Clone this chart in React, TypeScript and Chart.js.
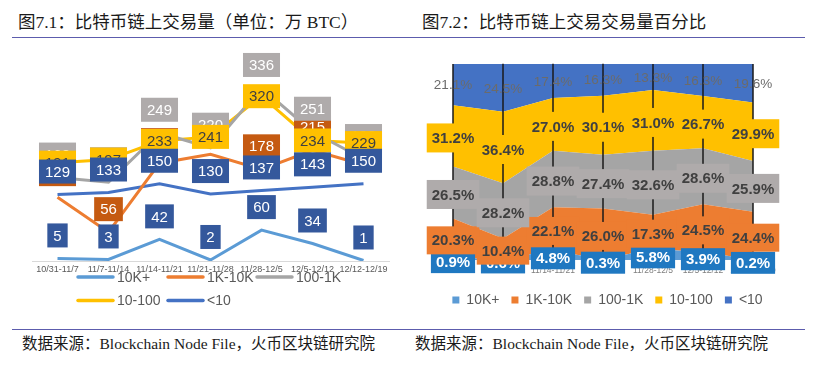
import React, { useEffect, useRef } from 'react';
import { Chart, registerables } from 'chart.js';

Chart.register(...registerables);

// ---------- data ----------
const categories = [
  '10/31-11/7',
  '11/7-11/14',
  '11/14-11/21',
  '11/21-11/28',
  '11/28-12/5',
  '12/5-12/12',
  '12/12-12/19',
];
const seriesNames = ['10K+', '1K-10K', '100-1K', '10-100', '<10'];
const seriesColors = ['#5B9BD5', '#ED7D31', '#A5A5A5', '#FFC000', '#4472C4'];

// Fig 7.1 : on-chain volume (万 BTC)
const vol10KPlus = [5, 3, 42, 2, 60, 34, 1];
const vol1Kto10K = [124, 56, 190, 207, 178, 215, 187];
const vol100to1K = [162, 153, 249, 220, 336, 251, 198];
const vol10to100 = [191, 197, 233, 241, 320, 234, 229];
const volUnder10 = [129, 133, 150, 130, 137, 143, 150];

// Fig 7.2 : share of volume (%)
const pct10KPlus = [0.9, 0.6, 4.8, 0.3, 5.8, 3.9, 0.2];
const pct1Kto10K = [20.3, 10.4, 22.1, 26.0, 17.3, 24.5, 24.4];
const pct100to1K = [26.5, 28.2, 28.8, 27.4, 32.6, 28.6, 25.9];
const pct10to100 = [31.2, 36.4, 27.0, 30.1, 31.0, 26.7, 29.9];
const pctUnder10 = [21.1, 24.5, 17.4, 16.3, 13.3, 16.3, 19.6];

const volSeries = [vol10KPlus, vol1Kto10K, vol100to1K, vol10to100, volUnder10];
const pctSeries = [pct10KPlus, pct1Kto10K, pct100to1K, pct10to100, pctUnder10];

// ---------- styles ----------
const SANS = '"Liberation Sans", Arial, sans-serif';
const SERIF = '"Liberation Serif", "Noto Sans CJK SC", serif';

const volLabelStyles = [
  { bg: '#34589C', color: '#FFFFFF', dy: -23 },
  { bg: '#C55A11', color: '#FFFFFF', dy: -23 },
  { bg: '#AFABAB', color: '#FFFFFF', dy: -23 },
  { bg: '#FFC000', color: '#404040', dy: 0 },
  { bg: '#34589C', color: '#FFFFFF', dy: -23 },
];

const pctLabelStyles = [
  { bg: '#1F78C1', color: '#FFFFFF', font: 'bold 15px ' + SANS, h: 22, dy: 3 },
  { bg: '#ED7D31', color: '#404040', font: 'bold 15px ' + SANS, h: 28, dy: 2 },
  { bg: '#AFABAB', color: '#404040', font: 'bold 15px ' + SANS, h: 29, dy: 2 },
  { bg: '#FFC000', color: '#404040', font: 'bold 15px ' + SANS, h: 29, dy: 2 },
  { bg: null, color: '#6B6B6B', font: '13.5px ' + SANS, h: 0, dy: 0 },
];

// ---------- plugins ----------
const volumeLabelPlugin = {
  id: 'volumeLabels',
  afterDatasetsDraw(chart: any) {
    const ctx = chart.ctx;
    ctx.save();
    ctx.font = '15px ' + SANS;
    ctx.textAlign = 'center';
    ctx.textBaseline = 'middle';
    chart.data.datasets.forEach((ds: any, di: number) => {
      const meta = chart.getDatasetMeta(di);
      const st = volLabelStyles[di];
      meta.data.forEach((pt: any, i: number) => {
        const text = String(ds.data[i]);
        const w = ctx.measureText(text).width + 12;
        const h = 24;
        const cx = pt.x;
        const cy = pt.y + st.dy;
        ctx.fillStyle = st.bg;
        ctx.fillRect(cx - w / 2, cy - h / 2, w, h);
        ctx.fillStyle = st.color;
        ctx.fillText(text, cx, cy + 1);
      });
    });
    ctx.restore();
  },
};

const gridLegendPlugin = {
  id: 'gridLegend',
  afterDraw(chart: any, _args: any, opts: any) {
    const ctx = chart.ctx;
    const { columns, rows, perRow, lineLength, gap } = opts;
    ctx.save();
    ctx.font = '14px ' + SANS;
    ctx.textBaseline = 'middle';
    ctx.textAlign = 'left';
    chart.data.datasets.forEach((ds: any, i: number) => {
      const x = columns[i % perRow];
      const y = rows[Math.floor(i / perRow)];
      ctx.strokeStyle = ds.borderColor;
      ctx.lineWidth = 3.5;
      ctx.lineCap = 'round';
      ctx.beginPath();
      ctx.moveTo(x, y);
      ctx.lineTo(x + lineLength, y);
      ctx.stroke();
      ctx.fillStyle = '#595959';
      ctx.fillText(ds.label, x + lineLength + gap, y + 1);
    });
    ctx.restore();
  },
};

const shareLabelPlugin = {
  id: 'shareLabels',
  afterDatasetsDraw(chart: any) {
    const ctx = chart.ctx;
    const yScale = chart.scales.y;
    const n = chart.data.datasets.length;
    const metas = chart.data.datasets.map((_d: any, i: number) => chart.getDatasetMeta(i));
    ctx.save();
    // drop lines
    ctx.strokeStyle = '#1A1A1A';
    ctx.lineWidth = 1.5;
    metas[0].data.forEach((pt: any, i: number) => {
      const top = metas[n - 1].data[i].y;
      const bottom = yScale.getPixelForValue(0);
      ctx.beginPath();
      ctx.moveTo(pt.x, top);
      ctx.lineTo(pt.x, bottom);
      ctx.stroke();
    });
    // labels
    ctx.textAlign = 'center';
    ctx.textBaseline = 'middle';
    chart.data.datasets.forEach((ds: any, di: number) => {
      const st = pctLabelStyles[di];
      ctx.font = st.font;
      metas[di].data.forEach((pt: any, i: number) => {
        const top = pt.y;
        const bottom = di === 0 ? yScale.getPixelForValue(0) : metas[di - 1].data[i].y;
        const cx = pt.x;
        const cy = (top + bottom) / 2 + st.dy;
        const text = Number(ds.data[i]).toFixed(1) + '%';
        const w = ctx.measureText(text).width + 10;
        if (st.bg) {
          ctx.fillStyle = st.bg;
          ctx.fillRect(cx - w / 2, cy - st.h / 2, w, st.h);
        }
        ctx.fillStyle = st.color;
        ctx.fillText(text, cx, cy + 1);
      });
    });
    ctx.restore();
  },
};

export default function App() {
  const leftRef = useRef<HTMLCanvasElement | null>(null);
  const rightRef = useRef<HTMLCanvasElement | null>(null);

  useEffect(() => {
    Chart.defaults.font.family = SANS;

    const left = new Chart(leftRef.current as HTMLCanvasElement, {
      type: 'line',
      data: {
        labels: categories,
        datasets: seriesNames.map((name, i) => ({
          label: name,
          data: volSeries[i],
          borderColor: seriesColors[i],
          backgroundColor: seriesColors[i],
          borderWidth: 3,
          pointRadius: 0,
          tension: 0,
          fill: false,
        })),
      },
      options: {
        animation: false,
        responsive: false,
        events: [],
        layout: { padding: { left: 32, right: 21, top: 15, bottom: 41 } },
        plugins: {
          legend: { display: false },
          tooltip: { enabled: false },
          gridLegend: { columns: [78, 168, 257], rows: [237, 260.5], perRow: 3, lineLength: 35, gap: 4 },
        } as any,
        scales: {
          x: {
            offset: true,
            grid: { display: false, drawTicks: false },
            border: { display: true, color: '#D9D9D9', width: 1 },
            ticks: {
              autoSkip: false,
              maxRotation: 0,
              minRotation: 0,
              padding: 3.6,
              color: '#595959',
              font: { size: 9, family: SANS },
            },
          },
          y: { display: false, min: 0, max: 400 },
        },
      },
      plugins: [volumeLabelPlugin, gridLegendPlugin],
    } as any);

    const hiddenAxis = (width: number, position: string) => ({
      display: true,
      position,
      min: 0,
      max: 100,
      ticks: { display: false },
      grid: { display: false, drawTicks: false },
      border: { display: false },
      afterFit(scale: any) {
        scale.width = width;
      },
    });

    const right = new Chart(rightRef.current as HTMLCanvasElement, {
      type: 'line',
      data: {
        labels: categories,
        datasets: seriesNames.map((name, i) => ({
          label: name,
          data: pctSeries[i],
          borderColor: seriesColors[i],
          backgroundColor: seriesColors[i],
          borderWidth: 0,
          pointRadius: 0,
          tension: 0,
          fill: i === 0 ? 'origin' : '-1',
        })),
      },
      options: {
        animation: false,
        responsive: false,
        events: [],
        layout: { padding: { left: 0, right: 0, top: 24, bottom: 3 } },
        plugins: {
          legend: {
            position: 'bottom',
            labels: {
              boxWidth: 7,
              boxHeight: 7,
              padding: 12,
              color: '#595959',
              font: { size: 14, family: SANS },
            },
          },
          tooltip: { enabled: false },
        },
        scales: {
          x: {
            offset: false,
            grid: { display: false, drawTicks: false },
            border: { display: false },
            ticks: {
              autoSkip: false,
              maxRotation: 0,
              minRotation: 0,
              padding: 5.4,
              color: '#7F7F7F',
              font: { size: 8.5, family: SANS },
            },
          },
          y: { ...hiddenAxis(43, 'left'), stacked: true },
          yRight: hiddenAxis(52, 'right'),
        },
      },
      plugins: [shareLabelPlugin],
    } as any);

    return () => {
      left.destroy();
      right.destroy();
    };
  }, []);

  const titleStyle: React.CSSProperties = {
    position: 'absolute',
    top: 11,
    fontFamily: SERIF,
    fontSize: 17.5,
    lineHeight: '22px',
    color: '#1A1A1A',
    whiteSpace: 'nowrap',
  };
  const sourceStyle: React.CSSProperties = {
    position: 'absolute',
    top: 334,
    fontFamily: SERIF,
    fontSize: 15.5,
    lineHeight: '20px',
    color: '#1A1A1A',
    whiteSpace: 'nowrap',
  };

  return (
    <div
      style={{
        position: 'fixed',
        left: 0,
        top: 0,
        width: 825,
        height: 369,
        background: '#FFFFFF',
        overflow: 'hidden',
      }}
    >
      <div style={{ ...titleStyle, left: 18 }}>图7.1：比特币链上交易量（单位：万 BTC）</div>
      <div style={{ ...titleStyle, left: 422 }}>图7.2：比特币链上交易交易量百分比</div>
      <div style={{ position: 'absolute', left: 12, top: 36.5, width: 793, height: 1.5, background: '#5C5CAD' }} />
      <canvas
        ref={leftRef}
        width={410}
        height={280}
        style={{ position: 'absolute', left: 0, top: 40, width: 410, height: 280 }}
      />
      <canvas
        ref={rightRef}
        width={395}
        height={280}
        style={{ position: 'absolute', left: 410, top: 40, width: 395, height: 280 }}
      />
      <div style={{ position: 'absolute', left: 12, top: 328.5, width: 793, height: 1.5, background: '#5C5CAD' }} />
      <div style={{ ...sourceStyle, left: 22 }}>数据来源：Blockchain Node File，火币区块链研究院</div>
      <div style={{ ...sourceStyle, left: 415 }}>数据来源：Blockchain Node File，火币区块链研究院</div>
    </div>
  );
}
